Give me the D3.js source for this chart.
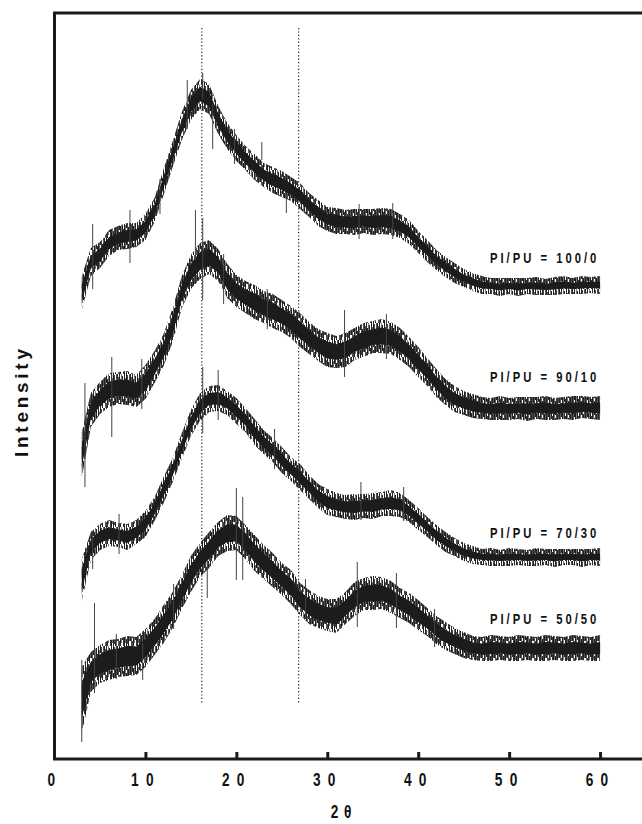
<!DOCTYPE html>
<html>
<head>
<meta charset="utf-8">
<script src="https://cdn.jsdelivr.net/npm/d3@7/dist/d3.min.js"></script>
<style>
  body { margin: 0; background: #fff; }
  svg { display: block; }
</style>
</head>
<body>
<div id="chart"></div>
<script>
// 2-theta sampling grid (degrees)
const angles = [3,4,5,6,7,8,9,10,11,12,13,14,15,16,17,18,19,20,21,22,23,24,25,26,27,28,29,30,
  31,32,33,34,35,36,37,38,39,40,41,42,43,44,45,46,47,48,49,50,51,52,53,54,55,56,57,58,59,60];

// curve centre (a.u., curves already offset as in the figure) and half width of the noise band
const pi100 = [466,497,504,516,521,523,524,532,549,577,
  605,633,654,665,660,639,623,611,601,592,
  584,579,575,570,563,554,546,540,538,537,
  537,538,537,538,537,533,527,517,508,499,
  492,486,481,477,474,473,472,473,472,473,
  473,472,473,474,473,474,474,474];
const noise100 = [14,11,10,10,9,10,9,10,9,10,
  10,11,12,12,12,11,10,10,9,10,
  9,10,10,9,10,9,10,9,10,9,
  10,9,10,10,10,9,9,8,8,7,
  7,7,6,6,6,5,6,5,6,5,
  6,5,6,6,5,6,5,6];

const pi9010 = [304,349,361,369,371,371,368,377,392,409,
  434,467,487,498,502,494,478,468,462,457,
  452,448,443,437,429,421,414,409,407,409,
  415,419,422,423,421,415,407,397,387,376,
  367,360,356,353,351,350,351,350,351,350,
  351,351,350,351,351,352,351,351];
const noise9010 = [20,14,13,14,13,14,13,14,13,13,
  14,13,14,15,14,13,14,13,13,14,
  13,14,13,13,14,13,13,14,13,14,
  13,14,13,14,13,13,12,12,11,11,
  10,10,9,9,8,8,9,8,8,9,
  8,9,8,8,9,8,8,9];

const pi7030 = [179,213,222,226,224,222,227,235,250,269,
  289,313,336,352,360,361,356,348,339,327,
  317,309,299,290,282,272,263,257,254,252,
  252,253,253,255,256,254,248,240,232,224,
  217,212,207,204,202,202,201,202,202,201,
  202,202,201,202,202,201,202,202];
const noise7030 = [18,11,10,10,9,10,9,10,9,10,
  9,10,10,11,10,10,9,10,9,10,
  9,9,10,9,10,9,9,10,9,9,
  10,9,10,9,10,9,8,8,7,7,
  7,6,6,6,5,6,5,6,5,5,
  6,5,6,5,5,6,5,6];

const pi5050 = [59,87,95,99,101,103,103,111,122,135,
  149,167,185,199,209,220,226,226,217,206,
  197,189,180,172,160,152,147,144,143,151,
  160,165,166,166,162,156,151,144,137,129,
  123,118,114,111,110,111,111,110,111,111,
  110,111,111,110,111,111,110,111];
const noise5050 = [30,17,16,17,16,17,16,16,15,16,
  15,14,15,14,15,14,15,14,14,15,
  14,14,13,14,13,14,13,13,14,13,
  14,13,14,13,13,12,12,12,11,11,
  11,10,10,9,9,10,9,9,10,9,
  9,10,9,9,10,9,9,10];

// single spikes sticking out of the band: [2theta, low, high]
const spikes100 = [[4.2,470,535],[8.3,496,549],[11.6,545,580],[14.6,630,679],[16.3,660,686],[17.4,610,655],
  [19.8,595,630],[22.8,599,617],[25.5,546,566],[33.5,520,555],[37.2,520,556]];
const spikes9010 = [[3.35,272,376],[6.3,322,402],[9.6,350,400],[15.5,499,549],[16.3,459,541],[18.6,455,505],
  [23.4,430,470],[31.9,382,449],[36.5,400,445]];
const spikes7030 = [[4.2,190,228],[7.1,205,245],[16.3,326,392],[18,339,389],[24.2,290,330],[33.7,239,277],[38.4,238,272]];
const spikes5050 = [[3.0,17,99],[4.4,66,156],[6.8,80,125],[9.7,79,116],[13.1,130,175],[16.8,161,199],[20,179,271],
  [20.7,179,262],[27.6,140,180],[33.3,132,197],[37.6,131,186],[41.8,112,150]];

const seriesNames = ["PI/PU = 100/0", "PI/PU = 90/10", "PI/PU = 70/30", "PI/PU = 50/50"];
const xTicks = [0, 10, 20, 30, 40, 50, 60];
const refLines = [16.2, 26.85];   // dotted guides

const series = [
  {name: seriesNames[0], c: pi100, s: noise100, spikes: spikes100},
  {name: seriesNames[1], c: pi9010, s: noise9010, spikes: spikes9010},
  {name: seriesNames[2], c: pi7030, s: noise7030, spikes: spikes7030},
  {name: seriesNames[3], c: pi5050, s: noise5050, spikes: spikes5050}
];

const W = 642, H = 824;
const svg = d3.select("#chart").append("svg")
  .attr("width", W).attr("height", H);

const x = d3.scaleLinear().domain([0, 70]).range([54.5, 691]);
const y = d3.scaleLinear().domain([0, 746]).range([759, 13]);

// irregular vertical-stroke texture for the noisy fringe of each band
const strokes = [[0,0,12,"#222"],[1,3,17,"#555"],[2,0,9,"#222"],[2,12,17,"#444"],[3,5,17,"#222"],[4,0,14,"#777"],
  [5,2,11,"#222"],[6,8,17,"#333"],[7,0,17,"#222"],[8,4,14,"#666"],[9,0,7,"#222"],[9,10,17,"#222"],
  [10,1,15,"#444"],[11,6,17,"#222"],[12,0,12,"#555"]];
const pat = svg.append("defs").append("pattern")
  .attr("id", "fuzz").attr("patternUnits", "userSpaceOnUse")
  .attr("width", 13).attr("height", 17);
pat.selectAll("rect")
  .data(strokes)
  .join("rect")
    .attr("x", d => d[0]).attr("y", d => d[1])
    .attr("width", 1).attr("height", d => d[2] - d[1])
    .attr("fill", d => d[3]);

// dotted guide lines
svg.selectAll(".guide")
  .data(refLines)
  .join("line")
    .attr("x1", d => x(d)).attr("x2", d => x(d))
    .attr("y1", 28).attr("y2", 703)
    .attr("stroke", "#222")
    .attr("stroke-width", 1.2)
    .attr("stroke-dasharray", "1.2,2.2");

series.forEach(function(sr, k) {
  const pts = angles.map((a, i) => ({a: a, c: sr.c[i], s: sr.s[i]}));
  const halo = d3.area()
    .x(d => x(d.a))
    .y0(d => y(d.c - d.s - 3))
    .y1(d => y(d.c + d.s + 3));
  const core = d3.area()
    .x(d => x(d.a))
    .y0(d => y(d.c - d.s * 0.6))
    .y1(d => y(d.c + d.s * 0.6));

  svg.append("path").datum(pts)
    .attr("d", halo)
    .attr("fill", "url(#fuzz)");
  svg.append("path").datum(pts)
    .attr("d", core)
    .attr("fill", "#1c1c1c");

  svg.append("g").selectAll("line")
    .data(sr.spikes)
    .join("line")
      .attr("x1", d => x(d[0])).attr("x2", d => x(d[0]))
      .attr("y1", d => y(d[1])).attr("y2", d => y(d[2]))
      .attr("stroke", "#444").attr("stroke-width", 1);
});

// curve labels
const labelOffset = [22, 26, 19, 24];
series.forEach(function(sr, k) {
  const last = sr.c[sr.c.length - 1];
  svg.append("text")
    .attr("transform", `translate(490, ${y(last) - labelOffset[k]}) scale(0.75,1)`)
    .attr("font-family", "'Liberation Sans', Arial, sans-serif")
    .attr("font-weight", "bold")
    .attr("font-size", "15px")
    .attr("letter-spacing", "4px")
    .attr("fill", "#111")
    .text(sr.name);
});

// frame (right side runs off the page)
svg.append("path")
  .attr("d", `M700,13 H54.5 V759 H700`)
  .attr("fill", "none")
  .attr("stroke", "#1a1a1a")
  .attr("stroke-width", 3);

// x axis ticks pointing inward
const xAxis = svg.append("g")
  .attr("transform", "translate(0,759)")
  .call(d3.axisBottom(x).tickValues(xTicks).tickSizeInner(-7).tickSizeOuter(0).tickPadding(14).tickFormat(d3.format("d")));
xAxis.select(".domain").remove();
xAxis.selectAll(".tick line")
  .attr("stroke", "#1a1a1a").attr("stroke-width", 3)
  .filter(d => d === 0).remove();
xAxis.selectAll(".tick text")
  .attr("transform", "scale(0.72,1)")
  .attr("font-family", "'Liberation Sans', Arial, sans-serif")
  .attr("font-weight", "bold")
  .attr("font-size", "19px")
  .attr("letter-spacing", "10px")
  .attr("fill", "#111");

// axis titles
svg.append("text")
  .attr("transform", "translate(344, 818) scale(0.72,1)")
  .attr("text-anchor", "middle")
  .attr("font-family", "'Liberation Sans', Arial, sans-serif")
  .attr("font-weight", "bold")
  .attr("font-size", "19px")
  .attr("letter-spacing", "8px")
  .attr("fill", "#111")
  .text("2θ");

svg.append("text")
  .attr("transform", "translate(28, 403) rotate(-90)")
  .attr("text-anchor", "middle")
  .attr("font-family", "'Liberation Sans', Arial, sans-serif")
  .attr("font-weight", "bold")
  .attr("font-size", "19px")
  .attr("textLength", 108)
  .attr("lengthAdjust", "spacing")
  .attr("fill", "#111")
  .text("Intensity");
</script>
</body>
</html>
